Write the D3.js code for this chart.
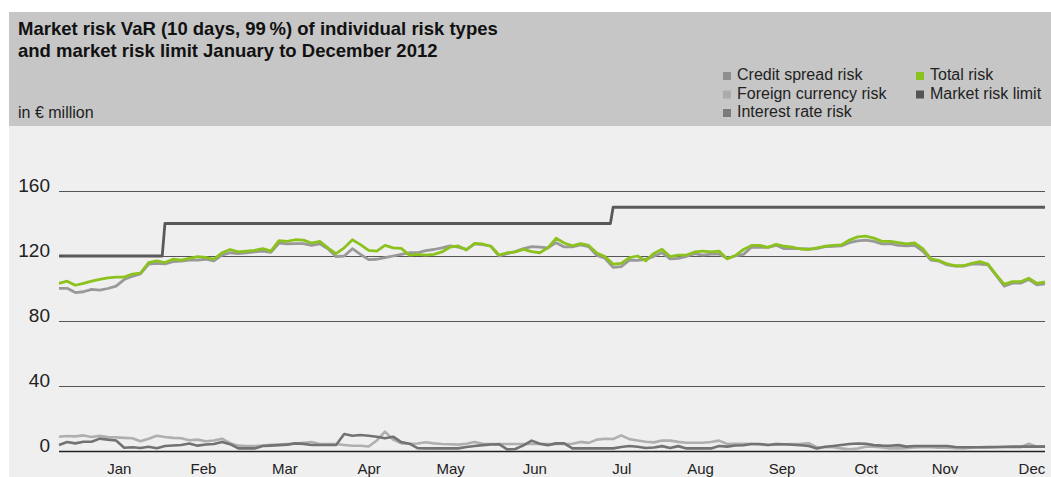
<!DOCTYPE html>
<html>
<head>
<meta charset="utf-8">
<script src="https://cdn.jsdelivr.net/npm/d3@7"></script>
<style>
  body { margin: 0; background: #fff; }
  svg { display: block; font-family: "Liberation Sans", Arial, sans-serif; }
</style>
</head>
<body>
<div id="chart"></div>
<script>
// readings every 3 days from 1 Jan 2012 (122 points)
const startDay = new Date(2012, 0, 1);
const stepDays = 3;

const totalRisk = [
  103.2, 104.5, 102, 103.2, 104.5, 105.6, 106.5, 107, 107, 108.9,
  109.5, 116, 117, 116, 118, 117.5, 118.5, 119.6, 119.2, 118,
  122, 124, 122.5, 123, 123.5, 124.5, 123, 129.5, 129, 130,
  129.8, 128, 129, 125, 121.5, 125, 130, 127, 123.5, 123,
  126.5, 125, 124.7, 120.5, 121, 120.5, 121, 122.5, 125.5, 126.2,
  123.7, 127.8, 127.4, 126, 120.6, 122, 122.5, 124.1, 122.7, 122,
  125, 130.9, 128, 126.2, 127.6, 126.5, 121.8, 119.6, 115, 115.5,
  119, 120, 117, 121.6, 124.1, 119.6, 120.5, 120.6, 122.5, 123,
  122.5, 123, 118.2, 120.3, 124, 126.5, 126.5, 125.3, 127.2, 126,
  125.5, 124.3, 124, 125, 126, 126.6, 126.8, 129.8, 131.8, 132.2,
  131, 129, 129, 128.2, 127.4, 128, 124.5, 118.3, 117.2, 115.1,
  114, 114, 115.5, 116.5, 115, 108.5, 102.5, 104.2, 104.2, 106.3,
  103.2, 104
];

const creditSpread = [
  100.1, 100.1, 97.5, 98, 99.5, 99, 100, 101.5, 105.5, 107.5,
  109, 115, 115.5, 115.2, 116.5, 116.8, 117.5, 117.5, 118, 117,
  120.5, 122, 121.5, 122, 122.5, 123, 122.3, 128, 127.4, 127.6,
  127.6, 126.5, 127.5, 124.5, 119.6, 120, 124.5, 121, 117.8, 118,
  119, 120, 121, 122, 122, 123.3, 124, 125, 126.2, 125.5,
  124.1, 127.4, 127, 126, 120, 121.5, 122.7, 124.5, 125.8, 125.5,
  125, 128.2, 125.6, 125.6, 126.8, 125.8, 120.3, 118.6, 113, 113.5,
  117.5, 117.3, 118, 119.8, 122, 118.2, 118.6, 119.8, 121.5, 120.6,
  121.2, 121.2, 118.6, 120, 121, 125.5, 125.3, 125.3, 126.6, 124.5,
  124.7, 124.5, 124.3, 124.5, 125.8, 126, 126.2, 128.2, 129.3, 129.8,
  129, 127.4, 127.6, 126.6, 126.2, 126.6, 123, 117.5, 116.8, 114.5,
  113.8, 113.8, 115, 115, 114.5, 108, 101.5, 103.3, 103.3, 105.6,
  102.3, 102.8
];

const foreignCurrency = [
  8.8, 9.2, 9, 9.6, 8.6, 9.3, 8.6, 8.4, 8.1, 7.8,
  6, 7.5, 9.4, 8.6, 8.1, 7.8, 6.6, 7, 6, 6.5,
  7.6, 4.8, 3.3, 3.1, 3.1, 3.4, 3.8, 4, 4.3, 4.6,
  5, 5.5, 4.3, 4.3, 4.3, 3.7, 3.2, 3.2, 2.8, 6.5,
  11.9, 7, 4.7, 4.5, 4.6, 5.4, 4.7, 4.3, 4.2, 3.9,
  4.5, 5.6, 4.5, 4.3, 4.3, 4.3, 4.3, 4.3, 4.3, 4.3,
  4.3, 4.3, 4.3, 4.5, 5.6, 5, 7, 7.5, 7.4, 9.6,
  7.3, 6.5, 5.7, 5.3, 6.4, 6.4, 5.6, 5.1, 5.1, 5.1,
  5.5, 6.4, 4.3, 4.5, 4.4, 4.3, 4, 3.7, 3.8, 4.1,
  4.3, 4.4, 4.8, 2.3, 2.3, 2.3, 1.6, 1, 1.5, 2.7,
  2.6, 2.2, 1.6, 1.6, 1.7, 2.2, 2.3, 2.3, 2.1, 2,
  1.7, 1.6, 2, 2.3, 2.3, 2.3, 2.3, 2.3, 2.3, 4.5,
  2.6, 3
];

const interestRate = [
  3.7, 5.5, 4.7, 5.7, 5.7, 7.6, 7, 6.5, 2, 2.3,
  1.8, 2.6, 1.7, 3.1, 3.4, 3.7, 4.6, 3.3, 4, 4.3,
  5.6, 4.2, 1.6, 1.6, 1.6, 3.1, 3.3, 3.6, 3.9, 4.7,
  4.4, 3.7, 3.7, 3.7, 3.7, 10.5, 9.4, 9.8, 9.4, 8.8,
  7.8, 8.8, 5.5, 4.5, 1.7, 1.6, 1.6, 1.6, 1.6, 1.6,
  2.5, 3.1, 3.6, 4, 4.2, 1, 1.2, 3.5, 6.4, 4.5,
  3.6, 4.7, 4.7, 1.6, 1.6, 1.6, 1.6, 1.6, 1.6, 2.5,
  3.1, 2.6, 1.8, 2.2, 3, 1.8, 3, 1.6, 1.6, 1.6,
  1.6, 3.1, 2.7, 3.4, 3.5, 4.3, 4.3, 3.7, 4.3, 4.2,
  3.8, 3.5, 3.1, 1.6, 2.6, 3.1, 3.7, 4.3, 4.6, 4.5,
  3.6, 3.3, 3.2, 3.6, 2.7, 3.1, 3.1, 3.1, 3.1, 3.1,
  2.5, 2.3, 2.3, 2.3, 2.4, 2.5, 2.6, 2.7, 2.7, 2.7,
  2.7, 2.7
];

// market risk limit: step changes
const limitDates = ["2012-01-01", "2012-02-08", "2012-02-09", "2012-07-22", "2012-07-23", "2012-12-29"];
const limitValues = [120, 120, 140, 140, 150, 150];

const yTicks = [0, 40, 80, 120, 160];
const monthLabelDates = ["2012-01-23", "2012-02-23", "2012-03-24", "2012-04-24", "2012-05-24", "2012-06-24",
                         "2012-07-26", "2012-08-24", "2012-09-23", "2012-10-24", "2012-11-22", "2012-12-24"];

const legendNames = ["Credit spread risk", "Foreign currency risk", "Interest rate risk", "Total risk", "Market risk limit"];
const legendColors = ["#8e8e8e", "#acacac", "#7b7b7b", "#8cc21e", "#555555"];

const width = 1051, height = 477;
const parseDate = d3.timeParse("%Y-%m-%d");

const dates = totalRisk.map((d, i) => d3.timeDay.offset(startDay, i * stepDays));

const svg = d3.select("#chart").append("svg")
    .attr("width", width)
    .attr("height", height);

// panels
svg.append("rect").attr("x", 9).attr("y", 12).attr("width", width - 9).attr("height", 114).attr("fill", "#c6c6c6");
svg.append("rect").attr("x", 9).attr("y", 126).attr("width", width - 9).attr("height", height - 126).attr("fill", "#efefef");

// title
svg.append("text").attr("x", 18).attr("y", 35)
    .style("font-size", "18.5px").style("font-weight", "bold").attr("fill", "#111")
    .text("Market risk VaR (10 days, 99\u2009%) of individual risk types");
svg.append("text").attr("x", 18).attr("y", 57)
    .style("font-size", "18.5px").style("font-weight", "bold").attr("fill", "#111")
    .text("and market risk limit January to December 2012");
svg.append("text").attr("x", 18).attr("y", 118)
    .style("font-size", "16px").attr("fill", "#222")
    .text("in € million");

// legend
const legend = svg.append("g")
    .selectAll("g")
    .data(legendNames)
    .join("g")
    .attr("transform", (d, i) => i < 3
        ? `translate(723,${80 + i * 18.5})`
        : `translate(916,${80 + (i - 3) * 18.5})`);

legend.append("rect")
    .attr("y", -8).attr("width", 8).attr("height", 8)
    .attr("fill", (d, i) => legendColors[i]);

legend.append("text")
    .attr("x", 14)
    .style("font-size", "16px").attr("fill", "#222")
    .text(d => d);

// scales
const x = d3.scaleTime()
    .domain([startDay, dates[dates.length - 1]])
    .range([59, 1045]);

const y = d3.scaleLinear()
    .domain([0, 160])
    .range([451, 191]);

// y axis with gridlines
const yAxis = svg.append("g")
    .attr("transform", "translate(59,0)")
    .call(d3.axisLeft(y).tickValues(yTicks).tickSize(-(1045 - 59)).tickPadding(9));
yAxis.select(".domain").remove();
yAxis.selectAll(".tick line")
    .attr("stroke", d => d === 0 ? "#222" : "#555")
    .attr("stroke-width", d => d === 0 ? 1.5 : 1);
yAxis.selectAll(".tick text")
    .attr("dy", "0.05em")
    .style("font-size", "19px")
    .style("font-family", "'Liberation Sans', Arial, sans-serif")
    .attr("fill", "#222");

// x axis month labels
const xAxis = svg.append("g")
    .attr("transform", "translate(0,451)")
    .call(d3.axisBottom(x)
        .tickValues(monthLabelDates.map(parseDate))
        .tickFormat(d3.timeFormat("%b"))
        .tickSize(0)
        .tickPadding(12));
xAxis.select(".domain").remove();
xAxis.selectAll(".tick text")
    .style("font-size", "15px")
    .style("font-family", "'Liberation Sans', Arial, sans-serif")
    .attr("fill", "#222");

// lines
const line = d3.line()
    .x(d => x(d.date))
    .y(d => y(d.value));

function series(values) {
    return values.map((v, i) => ({ date: dates[i], value: v }));
}

const limitData = limitDates.map((s, i) => ({ date: parseDate(s), value: limitValues[i] }));

const lines = [
    { data: series(foreignCurrency), color: "#afafaf", w: 2.6 },
    { data: series(interestRate), color: "#727272", w: 2.6 },
    { data: series(creditSpread), color: "#999999", w: 2.8 },
    { data: limitData, color: "#595959", w: 2.8 },
    { data: series(totalRisk), color: "#8cc21e", w: 2.8 }
];

svg.append("g")
    .selectAll("path")
    .data(lines)
    .join("path")
    .attr("fill", "none")
    .attr("stroke", d => d.color)
    .attr("stroke-width", d => d.w)
    .attr("stroke-linejoin", "round")
    .attr("d", d => line(d.data));
</script>
</body>
</html>
